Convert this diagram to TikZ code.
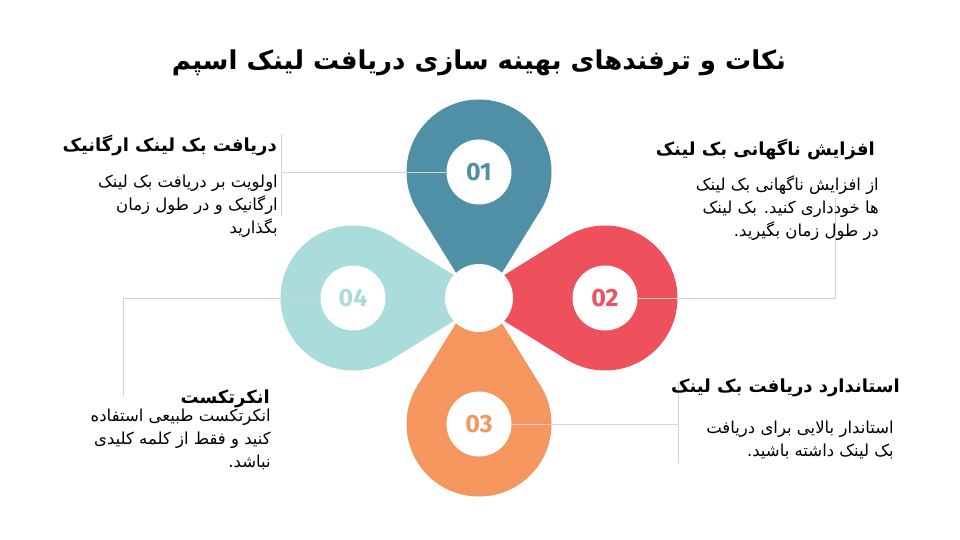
\documentclass[tikz,border=0pt]{standalone}
\usepackage{fontspec}
\usetikzlibrary{calc}
\newfontfamily\farsi[Script=Arabic]{DejaVu Sans}
\newfontfamily\numfont{Fira Sans}
\TeXXeTstate=1
\newcommand\fa[1]{{\farsi\beginR #1\endR}}
\definecolor{petalA}{HTML}{5090A6}
\definecolor{petalB}{HTML}{EE505C}
\definecolor{petalC}{HTML}{F5965E}
\definecolor{petalD}{HTML}{AADCDB}
\definecolor{leadgray}{HTML}{D2D2D2}
\tikzset{
  petalnum/.style={circle, fill=white, minimum size=65pt, inner sep=0pt,
    font=\numfont\bfseries\fontsize{25}{25}\selectfont},
  leader/.style={draw=leadgray, line width=0.8pt},
  head/.style={anchor=east, inner sep=0pt, font=\bfseries\fontsize{18}{22}\selectfont},
  body/.style={anchor=base east, align=right, inner sep=0pt,
    font=\fontsize{16.5}{23}\selectfont},
}
\begin{document}
\begin{tikzpicture}[x=1pt, y=-1pt]
\fill[white] (0,0) rectangle (960,540);
\useasboundingbox (0,0) rectangle (960,540);
\node[font=\farsi\bfseries\fontsize{26}{30}\selectfont] (title) at (479,63) {\fa{نکات و ترفندهای بهینه سازی دریافت لینک اسپم}};
\coordinate (c1) at (479,172);
\coordinate (c2) at (605,298);
\coordinate (c3) at (479,424);
\coordinate (c4) at (353,298);
\fill[petalA] (c1) circle (72.5);
\fill[petalA] ($(c1)+(90:138)$) -- ($(c1)+(148.3:72.5)$) -- ($(c1)+(31.7:72.5)$) -- cycle;
\fill[petalB] (c2) circle (72.5);
\fill[petalB] ($(c2)+(180:138)$) -- ($(c2)+(238.3:72.5)$) -- ($(c2)+(121.7:72.5)$) -- cycle;
\fill[petalC] (c3) circle (72.5);
\fill[petalC] ($(c3)+(270:138)$) -- ($(c3)+(328.3:72.5)$) -- ($(c3)+(211.7:72.5)$) -- cycle;
\fill[petalD] (c4) circle (72.5);
\fill[petalD] ($(c4)+(0:138)$) -- ($(c4)+(58.3:72.5)$) -- ($(c4)+(-58.3:72.5)$) -- cycle;
\node[circle, fill=white, minimum size=68pt, inner sep=0pt] (hub) at (479,298) {};
\node[petalnum, text=petalA] (n1) at (c1) {01};
\node[petalnum, text=petalB] (n2) at (c2) {02};
\node[petalnum, text=petalC] (n3) at (c3) {03};
\node[petalnum, text=petalD] (n4) at (c4) {04};
\coordinate (k1) at (281,172);
\coordinate (k1a) at (281,134);
\coordinate (k1b) at (281,216);
\coordinate (k2) at (835,298);
\coordinate (k2a) at (835,198);
\coordinate (k3) at (678,424);
\coordinate (k3a) at (678,382);
\coordinate (k3b) at (678,463);
\coordinate (k4) at (123,298);
\coordinate (k4a) at (123,397);
\draw[leader] (n1.west) -- (k1);
\draw[leader] (k1a) -- (k1b);
\draw[leader] (n2.east) -- (k2) -- (k2a);
\draw[leader] (n3.east) -- (k3);
\draw[leader] (k3a) -- (k3b);
\draw[leader] (n4.west) -- (k4) -- (k4a);
\node[head] (h1) at (277,146) {\fa{دریافت  بک لینک ارگانیک}};
\node[body] (b1) at (278,233) {\fa{اولویت بر دریافت بک لینک}\\\fa{ارگانیک و در طول زمان}\\\fa{بگذارید}};
\node[head] (h2) at (875,150) {\fa{افزایش  ناگهانی بک لینک}};
\node[body] (b2) at (879,236) {\fa{از افزایش ناگهانی بک لینک}\\\fa{ها خودداری کنید. بک لینک}\\\fa{در طول زمان بگیرید.}};
\node[head] (h3) at (900,388) {\fa{استاندارد  دریافت بک لینک}};
\node[body] (b3) at (894,456) {\fa{استاندار بالایی برای دریافت}\\\fa{بک لینک داشته باشید.}};
\node[head] (h4) at (270,399) {\fa{انکرتکست}};
\node[body] (b4) at (271,467) {\fa{انکرتکست طبیعی استفاده}\\\fa{کنید و فقط از کلمه کلیدی}\\\fa{نباشد.}};
\end{tikzpicture}
\end{document}
